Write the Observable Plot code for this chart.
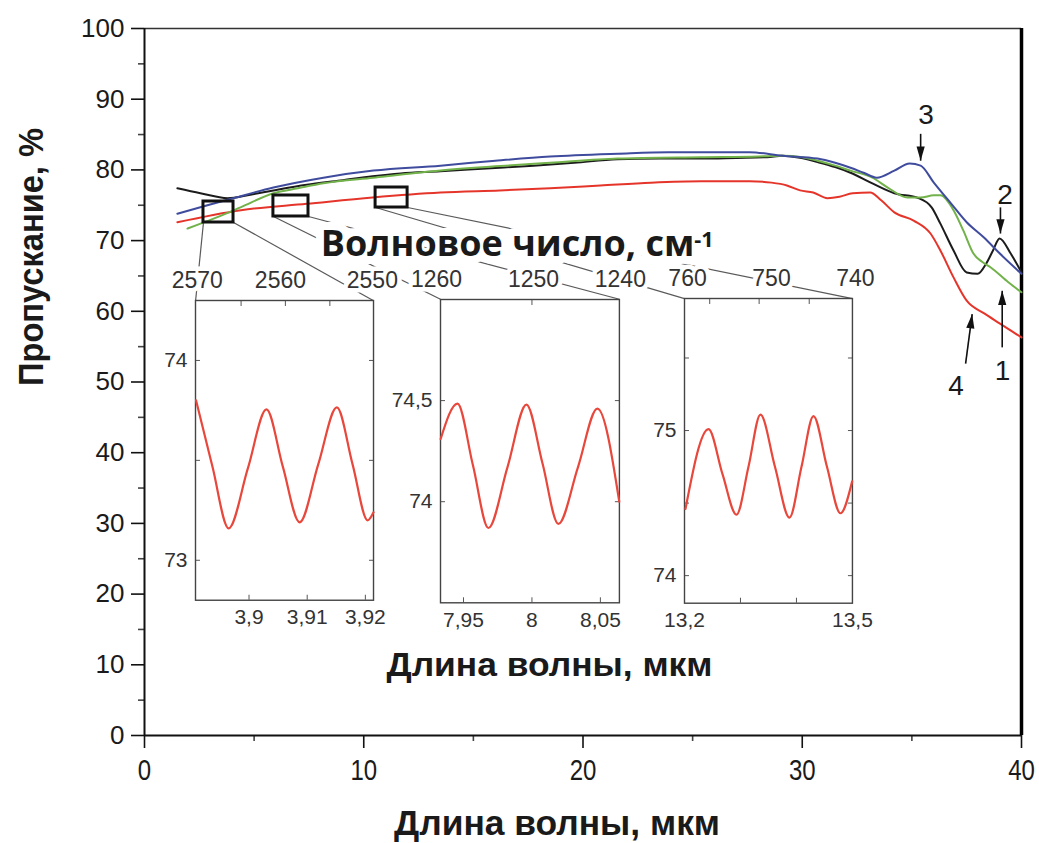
<!DOCTYPE html>
<html>
<head>
<meta charset="utf-8">
<script src="https://cdn.jsdelivr.net/npm/d3@7"></script>
<script src="https://cdn.jsdelivr.net/npm/@observablehq/plot@0.6"></script>
<style>
  html, body { margin: 0; padding: 0; background: #fff; }
  #chart { position: relative; width: 1039px; height: 843px; overflow: hidden; background: #fff; }
  #chart svg { position: absolute; overflow: visible; }
</style>
</head>
<body>
<div id="chart"></div>
<script>
// ---- Transmission spectra (wavelength, µm → transmission, %) ----
const curve1X = [1.5, 2.55, 3.79, 4.83, 5.88, 7.4, 8.94, 10.4, 11.68, 13.5, 15.6, 17.74, 19.6, 21.57, 23.5, 25.36, 27.0, 28.4, 29.1, 29.9, 30.7, 31.5, 32.2, 33.2, 34.2, 35.3, 35.9, 36.3, 36.9, 37.5, 38.0, 38.4, 38.7, 39.0, 39.5, 40.0];
const curve1Y = [77.4, 76.7, 76.0, 76.5, 77.1, 77.9, 78.5, 79.1, 79.5, 79.8, 80.2, 80.6, 81.0, 81.5, 81.6, 81.6, 81.7, 81.8, 82.0, 81.7, 81.1, 80.4, 79.6, 78.1, 76.7, 76.0, 74.7, 72.4, 68.6, 65.5, 65.3, 66.8, 68.6, 70.3, 68.2, 65.5];

const curve2X = [1.96, 3.15, 4.38, 5.88, 7.0, 8.16, 10.44, 13.5, 16.0, 18.5, 21.57, 25.36, 28.0, 29.1, 30.0, 30.7, 31.5, 32.2, 33.2, 33.9, 34.8, 35.4, 36.0, 36.3, 36.9, 37.35, 37.8, 38.2, 38.6, 39.4, 40.0];
const curve2Y = [71.7, 73.1, 74.7, 76.7, 77.4, 78.1, 78.9, 79.9, 80.5, 81.0, 81.6, 81.8, 81.9, 82.0, 81.8, 81.3, 80.6, 79.9, 78.9, 77.5, 76.1, 76.1, 76.4, 76.4, 74.3, 71.4, 68.2, 67.0, 66.2, 64.1, 62.7];

const curve3X = [1.5, 2.87, 4.06, 5.88, 8.16, 10.44, 13.5, 16.0, 18.5, 21.6, 23.9, 25.5, 27.6, 29.1, 30.7, 31.5, 32.2, 32.8, 33.4, 34.2, 34.9, 35.4, 36.0, 36.8, 37.5, 38.3, 39.0, 40.0];
const curve3Y = [73.8, 75.0, 76.0, 77.5, 78.9, 79.9, 80.6, 81.3, 81.9, 82.3, 82.5, 82.5, 82.5, 82.0, 81.6, 81.0, 80.3, 79.6, 78.9, 79.9, 80.9, 80.6, 78.2, 75.2, 72.6, 70.4, 68.2, 65.3];

const curve4X = [1.5, 4.4, 7.4, 10.4, 13.5, 16.2, 18.5, 20.8, 23.1, 25.4, 27.6, 28.6, 29.3, 29.9, 30.5, 31.15, 31.7, 32.3, 33.1, 33.6, 34.2, 35.1, 35.85, 36.3, 36.9, 37.5, 38.3, 39.0, 40.0];
const curve4Y = [72.6, 74.3, 75.2, 76.1, 76.8, 77.1, 77.4, 77.8, 78.2, 78.4, 78.4, 78.2, 77.8, 77.1, 76.8, 76.0, 76.2, 76.7, 76.8, 75.7, 74.0, 72.8, 71.0, 68.6, 64.8, 61.5, 59.7, 58.3, 56.3];

// ---- Fine structure of curve 4 in three narrow windows ----
const zoom1Wl = [3.8909, 3.8937, 3.8965, 3.8998, 3.9030, 3.9058, 3.9087, 3.9119, 3.9151, 3.9178, 3.9204, 3.9214];
const zoom1T  = [73.80, 73.47, 73.16, 73.46, 73.755, 73.47, 73.19, 73.48, 73.765, 73.48, 73.20, 73.24];

const zoom2Wl = [7.9333, 7.9456, 7.9569, 7.9682, 7.9821, 7.9960, 8.0077, 8.0193, 8.0336, 8.0478, 8.0638];
const zoom2T  = [74.31, 74.485, 74.18, 73.87, 74.17, 74.48, 74.19, 73.89, 74.17, 74.46, 74.00];

const zoom3Wl = [13.2018, 13.2429, 13.2679, 13.2929, 13.3143, 13.3357, 13.3616, 13.3875, 13.4090, 13.4304, 13.4545, 13.4786, 13.4995];
const zoom3T  = [74.46, 75.01, 74.70, 74.42, 74.75, 75.11, 74.75, 74.40, 74.75, 75.10, 74.75, 74.43, 74.65];

// Wavenumber (cm⁻¹) labels of each window and where they sit along λ
const zoom1Nu = [2570, 2560, 2550];
const zoom1NuAt = [3.8911, 3.9054, 3.9212];
const zoom2Nu = [1260, 1250, 1240];
const zoom2NuAt = [7.9303, 8.0011, 8.0646];
const zoom3Nu = [760, 750, 740];
const zoom3NuAt = [13.2054, 13.3554, 13.5054];

// Axis ticks
const mainXTicks = [0, 10, 20, 30, 40];
const mainXMinor = [5, 15, 25, 35];
const mainYTicks = [0, 10, 20, 30, 40, 50, 60, 70, 80, 90, 100];
const mainYMinor = [5, 15, 25, 35, 45, 55, 65, 75, 85, 95];

// Marked windows on the main curves (µm, %) and the panels they open into
const boxX1 = [2.69, 5.88, 10.54];
const boxX2 = [4.06, 7.48, 12.0];
const boxY1 = [72.56, 73.41, 74.68];
const boxY2 = [75.53, 76.38, 77.51];
const panelX1 = [2.33, 13.50, 24.63];
const panelX2 = [10.45, 21.66, 32.29];
const panelY1 = [19.1, 18.8, 18.7];
const panelY2 = [61.5, 61.7, 61.8];

// Curve numbers and pointers
const curveNames = ["1", "2", "3", "4"];
const nameX = [39.13, 39.25, 35.64, 37.01];
const nameY = [51.6, 76.5, 87.7, 49.4];
const pointerFromX = [39.12, 39.04, 35.40, 37.45];
const pointerFromY = [54.9, 74.7, 85.1, 52.6];
const pointerToX = [39.12, 39.04, 35.40, 37.75];
const pointerToY = [62.9, 71.0, 81.3, 59.6];

// ---------------------------------------------------------------
const SANS = "'Liberation Sans', Arial, Helvetica, sans-serif";
const OPEN = "'Open Sans', 'Liberation Sans', Arial, sans-serif";
const comma = d => String(d).replace(".", ",");
const zip = (xs, ys) => xs.map((x, i) => ({x, y: ys[i]}));

const W = 1039, H = 843;
const M = {left: 144, right: 18, top: 28, bottom: 108};
const kx = (W - M.left - M.right) / 40, ky = (H - M.top - M.bottom) / 100;

const boxes = boxX1.map((_, i) => ({x1: boxX1[i], x2: boxX2[i], y1: boxY1[i], y2: boxY2[i]}));
const connectors = boxes.flatMap((b, i) => [
  {x1: b.x1, y1: b.y1, x2: panelX1[i], y2: panelY2[i]},
  {x1: b.x2, y1: b.y1, x2: panelX2[i], y2: panelY2[i]}
]);
const pointers = curveNames.map((n, i) => ({
  x1: pointerFromX[i], y1: pointerFromY[i], x2: pointerToX[i], y2: pointerToY[i],
  rot: Math.atan2((pointerToX[i] - pointerFromX[i]) * kx, (pointerToY[i] - pointerFromY[i]) * ky) * 180 / Math.PI
}));
const names = curveNames.map((n, i) => ({text: n, x: nameX[i], y: nameY[i]}));

// slim filled arrowhead, tip at the origin pointing up
const arrowHead = {draw(c, size) { const h = Math.sqrt(size); c.moveTo(0, 0); c.lineTo(-0.29 * h, h); c.lineTo(0.29 * h, h); c.closePath(); }};

const series = [
  {x: curve4X, y: curve4Y, color: "#e5352b"},
  {x: curve1X, y: curve1Y, color: "#1c1c1c"},
  {x: curve2X, y: curve2Y, color: "#72b24a"},
  {x: curve3X, y: curve3Y, color: "#3f4c9e"}
];

const main = Plot.plot({
  width: W, height: H,
  marginLeft: M.left, marginRight: M.right, marginTop: M.top, marginBottom: M.bottom,
  x: {domain: [0, 40]},
  y: {domain: [0, 100]},
  style: {fontFamily: SANS, color: "#111", background: "transparent", overflow: "visible"},
  marks: [
    Plot.axisY({ticks: mainYTicks, tickSize: 13, tickPadding: 7, fontSize: 26, label: null, stroke: "#111", fill: "#1a1a1a", strokeWidth: 1.6}),
    Plot.axisY({ticks: mainYMinor, tickSize: 6, fill: "none", label: null, stroke: "#444", strokeWidth: 1.6}),
    Plot.axisX({ticks: mainXTicks, tickSize: 13, tickPadding: 10, fontSize: 30, label: null, stroke: "#111", fill: "#1a1a1a", strokeWidth: 1.6}),
    Plot.axisX({ticks: mainXMinor, tickSize: 6, fill: "none", label: null, stroke: "#444", strokeWidth: 1.6}),
    Plot.ruleY([100], {stroke: "#333", strokeWidth: 1.5}),
    Plot.ruleX([0], {stroke: "#111", strokeWidth: 2}),
    Plot.ruleY([0], {stroke: "#111", strokeWidth: 2}),
    Plot.ruleX([40], {stroke: "#000", strokeWidth: 3.5}),

    Plot.link(connectors, {x1: "x1", y1: "y1", x2: "x2", y2: "y2", stroke: "#5a5a5a", strokeWidth: 1.2}),

    ...series.map(s => Plot.line(zip(s.x, s.y), {x: "x", y: "y", stroke: s.color, strokeWidth: 2, curve: "monotone-x"})),

    Plot.rect(boxes, {x1: "x1", x2: "x2", y1: "y1", y2: "y2", fill: "none", stroke: "#111", strokeWidth: 3}),

    Plot.link(pointers, {x1: "x1", y1: "y1", x2: "x2", y2: "y2", stroke: "#111", strokeWidth: 1.6}),
    Plot.dot(pointers, {x: "x2", y: "y2", symbol: arrowHead, r: 8, rotate: "rot", fill: "#111", stroke: "none"}),
    Plot.text(names, {x: "x", y: "y", text: "text", fontSize: 28, fill: "#1a1a1a"}),

    Plot.text(["Волновое число, см"], {x: [17.0], y: [69.4], fontSize: 36, fontWeight: "bold", fontFamily: OPEN, fill: "#1a1a1a", stroke: "white", strokeWidth: 16}),
    Plot.text(["Длина волны, мкм"], {x: [18.47], y: [9.9], fontSize: 33, fontWeight: "bold", fontFamily: SANS, fill: "#1a1a1a"}),
    Plot.text(["Длина волны, мкм"], {frameAnchor: "bottom", dx: -26, dy: 99, fontSize: 35, fontWeight: "bold", fontFamily: SANS, fill: "#1a1a1a"}),
    Plot.text(["Пропускание, %"], {frameAnchor: "left", dx: -113, dy: 4, rotate: -90, fontSize: 35, fontWeight: "bold", fontFamily: SANS, fill: "#1a1a1a"})
  ]
});

const chart = document.getElementById("chart");
main.style.left = "0px"; main.style.top = "0px";
chart.appendChild(main);

// narrower set for the bottom tick labels and the axis titles
function setLength(el, len) {
  el.setAttribute("textLength", len);
  el.setAttribute("lengthAdjust", "spacingAndGlyphs");
}
d3.select(main).selectAll('g[aria-label="x-axis tick label"] text').each(function () {
  setLength(this, this.getComputedTextLength() * 0.8);
});
d3.select(main).selectAll("text").each(function () {
  const t = this.textContent;
  if (t === "Пропускание, %") setLength(this, 258);
  if (t === "Длина волны, мкм") setLength(this, 326);
  if (t === "Волновое число, см") {
    // superscript exponent of the unit, without the white halo
    d3.select(this).append("tspan")
      .attr("dy", "-0.42em").attr("font-size", "0.6em")
      .attr("stroke", "none")
      .text("-1");
  }
});

// ---- Inset panels, placed on the main chart's own scales ----
const xs = main.scale("x"), ys = main.scale("y");
const panels = [
  {wl: zoom1Wl, t: zoom1T, xDomain: [3.8908, 3.9214], yDomain: [72.8, 74.3],
   xLabels: [3.9, 3.91, 3.92], yLabels: [73, 74], yTicks: [73, 73.5, 74],
   nuTicks: [2565, 2560, 2555], nu: zoom1Nu, nuAt: zoom1NuAt},
  {wl: zoom2Wl, t: zoom2T, xDomain: [7.9332, 8.0639], yDomain: [73.5, 75.0],
   xLabels: [7.95, 8, 8.05], yLabels: [74, 74.5], yTicks: [74, 74.5],
   nuTicks: [1250], nu: zoom2Nu, nuAt: zoom2NuAt},
  {wl: zoom3Wl, t: zoom3T, xDomain: [13.2, 13.5], yDomain: [73.81, 75.91],
   xLabels: [13.2, 13.5], xTicks: [13.3, 13.4], yLabels: [74, 75], yTicks: [74, 74.5, 75, 75.5],
   nuTicks: [755, 750, 745], nu: zoom3Nu, nuAt: zoom3NuAt}
];

panels.forEach((p, i) => {
  const left = xs.apply(panelX1[i]), right = xs.apply(panelX2[i]);
  const top = ys.apply(panelY2[i]), bottom = ys.apply(panelY1[i]);
  const m = {l: 62, r: 34, t: 46, b: 42};
  const inner = Plot.plot({
    width: right - left + m.l + m.r, height: bottom - top + m.t + m.b,
    marginLeft: m.l, marginRight: m.r, marginTop: m.t, marginBottom: m.b,
    x: {domain: p.xDomain}, y: {domain: p.yDomain},
    style: {fontFamily: SANS, color: "#333", background: "transparent", overflow: "visible", maxWidth: "none"},
    marks: [
      Plot.axisY({anchor: "left", ticks: p.yTicks, tickSize: -5, fill: "none", label: null, stroke: "#555"}),
      Plot.axisY({anchor: "right", ticks: p.yTicks, tickSize: -5, fill: "none", label: null, stroke: "#555"}),
      Plot.axisY({anchor: "left", ticks: p.yLabels, tickSize: 0, tickPadding: 8, tickFormat: comma, fontSize: 21, label: null, fill: "#333"}),
      Plot.axisX({anchor: "bottom", ticks: p.xTicks || p.xLabels, tickSize: -5, fill: "none", label: null, stroke: "#555"}),
      Plot.axisX({anchor: "top", ticks: p.nuTicks.map(v => 1e4 / v), tickSize: -5, fill: "none", label: null, stroke: "#555"}),
      Plot.axisX({anchor: "bottom", ticks: p.xLabels, tickSize: 0, tickPadding: 9, tickFormat: comma, fontSize: 21, label: null, fill: "#333"}),
      Plot.text(p.nu, {x: (d, j) => p.nuAt[j], frameAnchor: "top", lineAnchor: "middle", dy: -20, text: d => String(d), fontSize: 23, fill: "#333", stroke: "white", strokeWidth: 9}),
      Plot.frame({stroke: "#444", strokeWidth: 1.4}),
      Plot.line(zip(p.wl, p.t), {x: "x", y: "y", stroke: "#e8473c", strokeWidth: 2.2, curve: "monotone-x"})
    ]
  });
  inner.style.left = (left - m.l) + "px";
  inner.style.top = (top - m.t) + "px";
  chart.appendChild(inner);
});
</script>
</body>
</html>
